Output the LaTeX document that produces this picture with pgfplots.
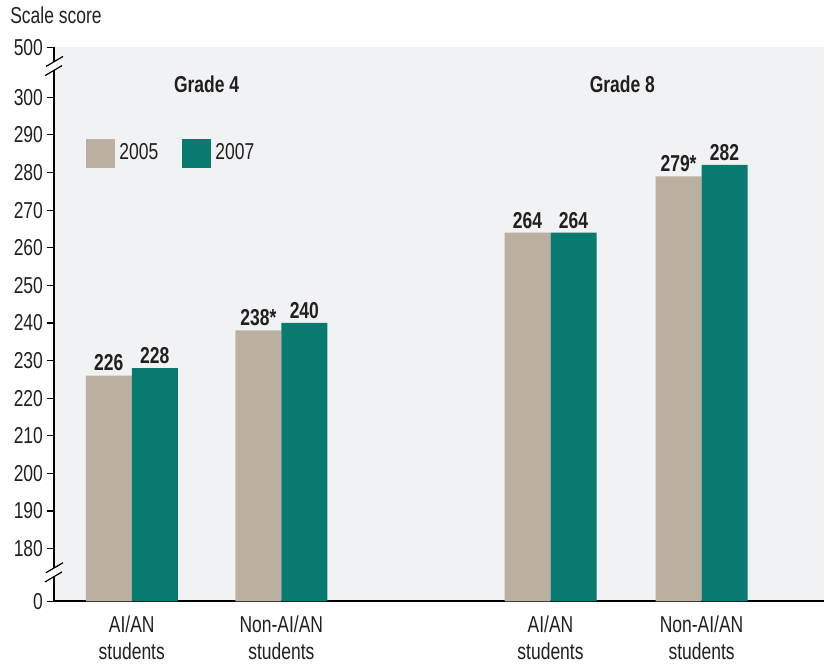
\documentclass[border=0pt]{standalone}
\usepackage{fontspec}
\setmainfont{Liberation Sans}[FakeStretch=0.76]
\usepackage{pgfplots}
\pgfplotsset{compat=1.18}
\definecolor{tanc}{RGB}{187,176,159}
\definecolor{tealc}{RGB}{8,122,112}
\definecolor{bgc}{RGB}{241,242,244}
\definecolor{txt}{RGB}{35,31,32}
\begin{document}
\begin{tikzpicture}[font=\fontsize{11.5}{13.5}\selectfont, text=txt]
\begin{axis}[
  x=74.75pt, y=1.88pt,
  xmin=-0.52, xmax=4.63, ymin=0, ymax=147.3,
  axis x line*=bottom, axis y line*=left,
  axis line style={black, line width=0.8pt},
  axis background/.style={fill=bgc},
  clip=false,
  ybar=0pt, bar width=23pt,
  y filter/.expression={y-166},
  ytick={0,14,24,34,44,54,64,74,84,94,104,114,124,134,147.3},
  yticklabels={0,180,190,200,210,220,230,240,250,260,270,280,290,300,500},
  ytick style={black, line width=0.6pt},
  tick align=outside,
  major tick length=3.5pt,
  xtick={0,1,2.8,3.81},
  xticklabels={{AI/AN\\students},{Non-AI/AN\\students},{AI/AN\\students},{Non-AI/AN\\students}},
  xticklabel style={align=center, yshift=0pt, font=\fontsize{11.5}{13.5}\selectfont},
  x tick style={draw=none},
  /pgf/number format/assume math mode=true,
  yticklabel style={xshift=1.5pt, font=\fontsize{11.5}{13.5}\selectfont},
  point meta=explicit symbolic,
  nodes near coords,
  every node near coord/.append style={font=\fontsize{11.5}{13.5}\selectfont\bfseries, text=txt, inner sep=2pt},
  legend style={at={(rel axis cs:0.0416,0.836)}, anchor=north west, draw=none, fill=none, inner sep=0pt,
    legend columns=2, /tikz/every even column/.append style={column sep=10pt},
    font=\fontsize{11.5}{13.5}\selectfont},
  legend image code/.code={\fill[#1] (0pt,-7.25pt) rectangle (14.5pt,7.25pt);},
]
\addplot[fill=tanc, draw=none] coordinates {(0,226) [226] (1,238) [238*] (2.8,264) [264] (3.81,279) [279*]};
\addplot[fill=tealc, draw=none] coordinates {(0,228) [228] (1,240) [240] (2.8,264) [264] (3.81,282) [282]};
\legend{2005,2007}
\node[font=\fontsize{11.5}{13.5}\selectfont\bfseries] at (axis cs:0.5,137.5) {Grade 4};
\node[font=\fontsize{11.5}{13.5}\selectfont\bfseries] at (axis cs:3.28,137.5) {Grade 8};
\node[anchor=west] at (rel axis cs:-0.066,1.058) {Scale score};
\coordinate (b1) at (axis cs:-0.52,142.3);
\coordinate (b2) at (axis cs:-0.52,7.7);
\coordinate (o) at (rel axis cs:0,0);
\end{axis}
\path ([xshift=-27pt]o);
\foreach \b in {b1,b2}{
  \fill[white] ([shift={(-1pt,-2pt)}]\b) rectangle ([shift={(1pt,2pt)}]\b);
  \draw[black, line width=0.6pt] ([shift={(-4.5pt,-4.8pt)}]\b) -- ([shift={(4pt,0.2pt)}]\b);
  \draw[black, line width=0.6pt] ([shift={(-4pt,-0.2pt)}]\b) -- ([shift={(4.5pt,4.8pt)}]\b);
}
\end{tikzpicture}
\end{document}
